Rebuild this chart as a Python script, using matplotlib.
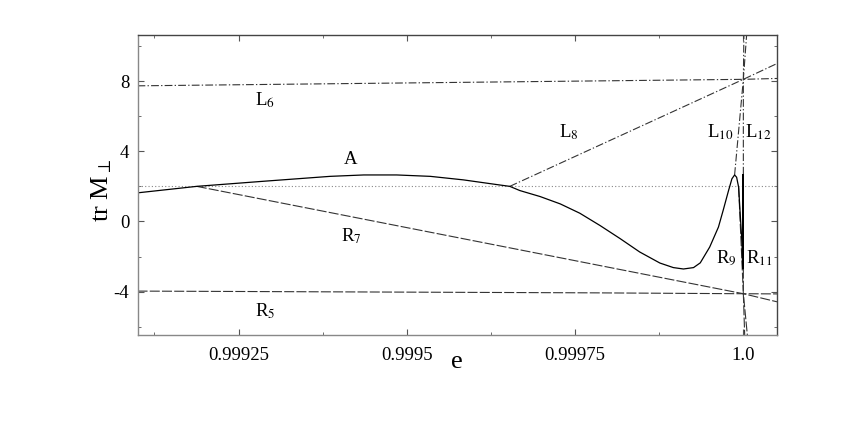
import numpy as np
import matplotlib
matplotlib.use("Agg")
import matplotlib.pyplot as plt
from matplotlib.ticker import FixedLocator, MultipleLocator

plt.rcParams['font.family'] = ['Liberation Serif', 'DejaVu Serif']
plt.rcParams['mathtext.fontset'] = 'stix'
plt.rcParams['axes.unicode_minus'] = False

# orbit A : trace of the monodromy matrix against eccentricity
A_e = [0.99910, 0.999188, 0.999287, 0.999386, 0.999436, 0.999485, 0.999535,
       0.999584, 0.999634, 0.999653, 0.999668, 0.999698, 0.999728, 0.999757,
       0.999787, 0.999817, 0.999846, 0.999876, 0.999896, 0.999911, 0.999926,
       0.999936, 0.999950, 0.999963, 0.999970, 0.999978, 0.999983, 0.999987,
       0.999990, 0.999993, 0.999995, 0.999998, 0.999999,
       0.9999993, 0.9999996, 0.9999998, 0.9999999, 1.0]
A_tr = [1.63, 2.0, 2.29, 2.57, 2.65, 2.65, 2.57,
        2.37, 2.10, 2.0, 1.76, 1.42, 1.0, 0.47,
        -0.23, -0.98, -1.74, -2.37, -2.63, -2.71, -2.63,
        -2.36, -1.46, -0.32, 0.63, 1.76, 2.43, 2.65,
        2.52, 1.95, 0.63, -1.27, -2.69,
        2.67, -2.69, 2.67, -2.69, 2.67]

# bifurcating branches (dash-dot = L, dashed = R)
L6_e = [0.99910, 1.0, 1.00005]
L6_tr = [7.73, 8.1, 8.15]
L8_e = [0.999653, 1.0, 1.00005]
L8_tr = [2.0, 8.1, 9.0]
L10_e = [0.999987, 1.0, 1.0000048]
L10_tr = [2.65, 8.1, 10.6]
L12_e = [1.0, 1.0, 1.0000008]
L12_tr = [2.67, 8.1, 10.6]
R5_e = [0.99910, 0.99978, 1.0, 1.00005]
R5_tr = [-3.97, -4.07, -4.12, -4.13]
R7_e = [0.999188, 1.0, 1.00005]
R7_tr = [2.0, -4.12, -4.58]
R9_e = [0.999993, 1.0, 1.000006]
R9_tr = [1.95, -4.12, -6.5]
R11_e = [1.0, 1.0, 1.000002]
R11_tr = [-2.69, -4.12, -6.5]

xticks = [0.99925, 0.9995, 0.99975, 1.0]
xticklabels = ['0.99925', '0.9995', '0.99975', '1.0']
yticks = [-4, 0, 4, 8]

labels = [('L$_6$', 0.99929, 6.9), ('A', 0.999416, 3.55), ('L$_8$', 0.999741, 5.1),
          ('L$_{10}$', 0.999966, 5.1), ('L$_{12}$', 1.000023, 5.1),
          ('R$_7$', 0.999418, -0.85), ('R$_5$', 0.99929, -5.1),
          ('R$_9$', 0.999975, -2.1), ('R$_{11}$', 1.000023, -2.1)]

fig = plt.figure(figsize=(8.58, 4.30), dpi=100)
ax = fig.add_axes([0.1603, 0.2198, 0.7453, 0.6977])

dashdot = (0, (7, 2, 1.2, 2))
dashed = (0, (9, 2))
lc = '#333333'

ax.axhline(2, color='#888888', lw=0.8, ls=(0, (1, 2)))
ax.plot(L6_e, L6_tr, color=lc, lw=0.8, ls=dashdot)
ax.plot(L8_e, L8_tr, color=lc, lw=0.8, ls=dashdot)
ax.plot(L10_e, L10_tr, color=lc, lw=0.8, ls=dashdot)
ax.plot(L12_e, L12_tr, color=lc, lw=0.8, ls=dashdot)
ax.plot(R5_e, R5_tr, color=lc, lw=0.8, ls=dashed)
ax.plot(R7_e, R7_tr, color=lc, lw=0.8, ls=dashed)
ax.plot(R9_e, R9_tr, color=lc, lw=0.8, ls=dashed)
ax.plot(R11_e, R11_tr, color=lc, lw=0.8, ls=dashed)
ax.plot(A_e, A_tr, color='black', lw=0.9)

for txt, x, y in labels:
    ax.text(x, y, txt, fontsize=13.5, ha='center', va='center')

ax.set_xlim(0.99910, 1.00005)
ax.set_ylim(-6.5, 10.6)
ax.xaxis.set_major_locator(FixedLocator(xticks))
ax.set_xticklabels(xticklabels)
ax.xaxis.set_minor_locator(MultipleLocator(0.000125))
ax.yaxis.set_major_locator(FixedLocator(yticks))
ax.yaxis.set_minor_locator(MultipleLocator(2))
ax.tick_params(which='both', direction='in', top=True, right=True,
               labelsize=13.5, color='#555555')
ax.tick_params(which='major', length=4, width=0.8)
ax.tick_params(which='minor', length=2.5, width=0.6)
ax.tick_params(axis='x', pad=8)
ax.tick_params(axis='y', pad=6)
for side in ['left', 'bottom']:
    ax.spines[side].set_color('#888888')
for side in ['top', 'right']:
    ax.spines[side].set_color('#444444')
for sp in ax.spines.values():
    sp.set_linewidth(1.0)

ax.text(0.5, -0.088, 'e', transform=ax.transAxes, fontsize=19,
        ha='center', va='center')
ax.text(-0.0560, 0.482, r'tr M$_{\perp}$', transform=ax.transAxes, fontsize=19,
        ha='center', va='center', rotation=90)

fig.savefig('out.png', dpi=100)
